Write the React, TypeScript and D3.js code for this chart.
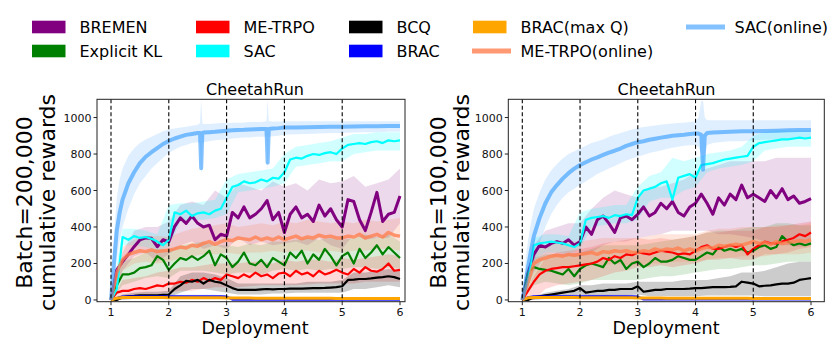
import React from 'react';
import * as d3 from 'd3';

// ---------- grids ----------
const XG = d3.range(51).map((i) => +(1 + i * 0.1).toFixed(2)); // line grid
const XB = d3.range(26).map((i) => +(1 + i * 0.2).toFixed(2)); // band grid

const NAMES = ['BREMEN', 'Explicit KL', 'ME-TRPO', 'SAC', 'BCQ', 'BRAC', 'BRAC(max Q)', 'ME-TRPO(online)', 'SAC(online)'];
const COLORS = ['#800080', '#008000', '#ff0000', '#00ffff', '#000000', '#0000ff', '#ffa500', '#ff7f50', '#1e90ff'];
const X_TICKS = [1, 2, 3, 4, 5, 6];
const Y_TICKS = [0, 200, 400, 600, 800, 1000];
const DEPLOY_LINES = [1, 2, 3, 4, 5];

// ---------- Batch = 200,000 (left) ----------
const L_BREMEN = [0,165,210,250,292,329,340,338,292,330, 320,402,450,420,460,420,400,410,330,360, 350,480,450,510,450,470,500,545,440,480, 370,470,510,450,470,430,520,460,500,440, 400,550,540,440,380,480,590,430,470,480, 570];
const L_BREMEN_HI = [0,260,380,400,400,430, 520,540,520,600,560, 640,620,600,650,620, 640,600,660,640,650, 680,620,640,660,720];
const L_BREMEN_LO = [0,160,240,260,210,250, 300,320,280,300,280, 340,300,320,300,310, 320,300,340,300,280, 360,330,340,340,420];

const L_KL = [0,80,140,140,150,175,180,190,240,220, 165,200,230,220,240,220,240,270,190,250, 230,180,210,260,200,190,220,180,230,210, 190,260,230,270,200,250,220,280,240,190, 240,260,200,280,230,260,300,250,290,260, 230];
const L_KL_HI = [0,210,230,260,280,270, 300,310,320,300,300, 290,310,300,320,320, 330,340,330,340,330, 340,360,340,360,320];
const L_KL_LO = [0,80,100,120,130,120, 160,160,160,150,140, 150,150,140,160,170, 160,170,160,170,170, 180,180,170,180,170];

const L_METRPO = [0,40,50,50,60,65,60,70,80,75, 90,90,100,95,110,100,120,105,120,110, 140,130,120,140,125,150,130,140,120,145, 150,130,160,140,150,130,160,140,150,165, 150,140,170,150,180,160,155,170,200,160, 165];
const L_METRPO_HI = [0,110,120,130,150,160, 180,180,190,200,200, 200,210,210,200,220, 210,220,220,210,230, 220,230,240,250,240];
const L_METRPO_LO = [0,20,20,25,30,40, 50,50,60,70,70, 70,75,80,80,80, 80,85,90,90,90, 90,100,100,100,100];

const L_SAC = [0,60,345,330,350,340,345,335,320,300, 330,480,470,490,460,475,480,470,490,500, 560,620,630,650,640,645,660,650,670,665, 700,770,780,775,790,800,795,805,810,800, 830,850,855,860,855,865,870,860,875,870, 875];
const L_SAC_HI = [0,390,390,380,360,520, 530,530,540,550,660, 690,700,710,720,800, 840,850,860,870,890, 910,910,920,920,920];
const L_SAC_LO = [0,300,300,290,270,290, 430,440,440,450,470, 590,600,610,620,640, 730,740,750,760,760, 800,810,820,820,820];

const L_BCQ = [0,0,15,20,22,25,25,25,25,28, 30,60,80,105,100,110,90,110,100,95, 80,65,55,55,55,55,58,60,58,60, 60,62,62,62,64,65,65,66,68,70, 75,110,112,115,115,118,122,125,130,125, 115];
const L_BCQ_HI = [0,30,40,45,45,50, 130,150,150,140,120, 90,90,90,90,90, 90,100,100,100,110, 150,150,160,170,160];
const L_BCQ_LO = [0,0,5,5,10,15, 40,60,60,50,40, 30,30,30,35,35, 40,40,40,40,40, 60,60,70,80,70];

const L_BRAC = [0,10,18,20,20,20,20,20,20,20, 20,20,20,20,20,20,20,20,20,20, 18,2,2,2,2,2,2,2,2,2, 2,2,2,2,2,2,2,2,2,2, 2,2,2,2,2,2,2,2,2,2, 2];
const L_BRAC_HI = [0,26,28,28,28,28, 28,28,28,28,26, 8,8,8,8,8, 8,8,8,8,8, 8,8,8,8,8];
const L_BRAC_LO = [0,10,12,12,12,12, 12,12,12,12,10, 0,0,0,0,0, 0,0,0,0,0, 0,0,0,0,0];

const L_BRACQ = [0,10,13,13,13,13,13,13,13,13, 12,12,12,12,12,12,12,12,12,12, 11,11,11,11,11,10,10,10,10,10, 10,10,9,9,9,9,9,9,9,8, 8,8,8,8,8,8,8,8,8,8, 8];
const L_BRACQ_HI = [0,16,16,16,16,15, 15,15,15,15,14, 14,14,13,13,13, 12,12,12,11,11, 11,11,11,11,11];
const L_BRACQ_LO = [0,8,10,10,10,9, 9,9,9,9,8, 8,8,7,7,7, 6,6,6,5,5, 5,5,5,5,5];

const L_METRPO_ON = [0,150,220,250,260,270,265,275,265,270, 272,280,290,285,300,295,310,320,305,320, 330,325,340,335,330,345,330,340,330,345, 330,340,350,335,345,340,355,345,350,340, 340,350,345,360,340,350,360,345,370,355, 350];
const L_METRPO_ON_HI = [0,290,330,350,350,345, 370,390,400,410,420, 400,410,420,410,430, 420,440,430,420,430, 420,440,430,440,450];
const L_METRPO_ON_LO = [0,160,200,210,200,210, 230,240,250,250,260, 250,260,260,270,260, 270,270,260,270,260, 270,270,280,280,270];

const L_SACON_X = [1.0,1.05,1.1,1.15,1.2,1.3,1.4,1.5,1.6,1.7,1.8,1.9,2.0,2.1,2.2,2.3,2.4,2.5,2.54,2.56,2.58,2.6,2.7,2.8,2.9,3.0,3.1,3.2,3.3,3.4,3.5,3.6,3.69,3.71,3.73,3.8,3.9,4.0,4.2,4.4,4.6,4.8,5.0,5.2,5.4,5.6,5.8,6.0];
const L_SACON = [0,200,380,480,550,640,700,750,785,810,832,855,872,885,895,905,910,915,915,722,915,918,920,922,925,928,930,932,933,935,936,937,937,753,937,940,942,945,946,947,948,949,950,951,952,952,953,953];
const L_SACON_HI = [0,350,560,660,720,790,830,860,880,895,910,925,935,940,945,950,955,960,970,1100,970,965,965,968,970,970,972,972,973,975,975,976,980,1100,980,978,978,980,980,980,980,980,980,980,980,980,980,980];
const L_SACON_LO = [0,80,220,320,400,500,580,640,680,720,750,780,805,825,840,850,860,865,860,680,860,865,870,875,878,880,885,888,890,890,895,895,895,700,895,898,900,905,908,910,912,915,915,918,920,920,922,922];

// ---------- Batch = 100,000 (right) ----------
const R_BREMEN = [0,150,250,300,290,310,320,310,330,300, 320,400,360,440,460,420,370,450,460,440, 470,510,460,480,530,500,540,480,460,510, 530,580,530,470,560,520,580,550,630,560, 580,560,540,600,560,610,550,570,530,540, 555];
const R_BREMEN_HI = [0,300,380,400,420,420, 500,560,600,580,560, 620,620,640,660,700, 720,740,760,760,760, 760,780,780,780,780];
const R_BREMEN_LO = [0,150,240,240,240,240, 260,300,320,320,340, 350,360,380,380,380, 380,360,360,350,340, 320,300,300,290,300];

const R_KL = [0,150,180,170,165,160,150,140,170,130, 170,190,200,190,180,230,200,220,170,200, 210,180,200,230,210,210,220,240,230,220, 220,240,260,250,290,270,280,270,280,260, 270,290,300,280,290,350,320,300,310,300, 310];
const R_KL_HI = [0,230,250,250,250,260, 280,300,300,300,300, 310,320,330,340,350, 370,380,380,390,400, 400,420,420,410,410];
const R_KL_LO = [0,80,100,90,80,90, 110,110,110,110,110, 120,130,130,140,150, 160,170,170,180,190, 190,200,210,210,210];

const R_METRPO = [0,50,100,140,160,170,175,180,180,185, 190,195,200,210,230,220,240,230,250,245, 260,255,250,260,270,265,260,250,255,250, 270,290,300,280,280,290,300,290,300,250, 280,300,320,310,310,320,330,340,360,350, 370];
const R_METRPO_HI = [0,130,230,260,270,280, 290,310,320,330,340, 330,340,330,340,350, 370,370,380,380,380, 400,400,410,420,430];
const R_METRPO_LO = [0,0,60,80,90,100, 110,130,150,160,180, 180,190,180,190,200, 220,220,230,220,220, 250,250,260,280,290];

const R_SAC = [0,100,300,310,315,320,315,310,300,290, 310,440,450,455,460,450,465,460,470,465, 560,600,610,620,640,650,550,670,680,690, 670,740,745,750,760,770,775,780,785,790, 840,860,865,870,875,880,880,885,890,885, 890];
const R_SAC_HI = [0,340,360,360,350,480, 500,510,520,520,620, 680,700,780,760,780, 800,810,820,840,900, 920,930,930,930,930];
const R_SAC_LO = [0,220,260,260,250,280, 400,410,420,420,440, 540,560,560,600,620, 700,720,730,740,760, 820,830,840,840,840];

const R_BCQ = [0,0,15,20,25,30,35,40,45,50, 65,40,45,50,50,55,55,60,60,60, 75,45,50,55,55,60,60,60,60,62, 65,65,68,70,70,70,72,75,100,95, 90,75,78,80,85,90,90,95,110,115, 120];
const R_BCQ_HI = [0,20,40,50,60,80, 80,90,90,90,100, 100,100,100,110,110, 110,120,130,150,150, 160,180,200,210,210];
const R_BCQ_LO = [0,0,5,10,20,30, 20,20,25,25,30, 20,20,20,20,20, 25,25,25,25,25, 20,20,20,20,20];

const R_BRAC = [0,15,20,20,20,20,20,20,20,20, 20,20,20,20,20,20,20,20,20,20, 18,3,3,3,3,3,3,3,3,3, 3,3,3,3,3,3,3,3,3,3, 3,3,3,3,3,3,3,3,3,3, 3];
const R_BRAC_HI = [0,26,28,28,28,28, 28,28,28,28,26, 8,8,8,8,8, 8,8,8,8,8, 8,8,8,8,8];
const R_BRAC_LO = [0,10,12,12,12,12, 12,12,12,12,10, 0,0,0,0,0, 0,0,0,0,0, 0,0,0,0,0];

const R_BRACQ = [0,12,13,13,13,13,13,13,13,13, 12,12,12,12,12,12,12,12,12,12, 11,11,11,11,11,10,10,10,10,10, 10,10,9,9,9,9,9,9,9,9, 8,8,8,8,8,8,8,8,8,8, 8];
const R_BRACQ_HI = [0,16,16,16,16,15, 15,15,15,15,14, 14,14,13,13,13, 12,12,12,11,11, 11,11,11,11,11];
const R_BRACQ_LO = [0,8,10,10,10,9, 9,9,9,9,8, 8,8,7,7,7, 6,6,6,5,5, 5,5,5,5,5];

const R_METRPO_ON = [0,100,200,220,230,240,245,240,250,245, 250,255,260,250,265,260,270,265,270,260, 260,270,265,280,270,280,275,285,270,280, 270,280,290,285,300,295,300,305,300,310, 320,310,315,305,320,310,315,320,325,320, 330];
const R_METRPO_ON_HI = [0,260,300,310,320,320, 330,340,340,340,340, 350,360,360,360,360, 380,390,390,400,400, 400,410,410,410,420];
const R_METRPO_ON_LO = [0,120,160,170,180,180, 190,190,200,190,190, 200,200,210,210,210, 220,230,230,240,240, 240,250,250,250,260];

const R_SACON_X = [1.0,1.05,1.1,1.15,1.2,1.3,1.4,1.5,1.6,1.7,1.8,1.9,2.0,2.1,2.2,2.3,2.4,2.5,2.6,2.7,2.8,2.9,3.0,3.1,3.2,3.3,3.4,3.5,3.6,3.7,3.8,3.9,4.0,4.05,4.1,4.13,4.16,4.2,4.3,4.4,4.6,4.8,5.0,5.2,5.4,5.6,5.8,6.0];
const R_SACON = [0,80,180,270,350,450,530,590,630,665,695,720,740,755,770,782,795,808,818,830,845,855,865,870,878,884,890,895,900,903,906,910,912,912,905,715,900,915,918,920,922,925,925,926,928,930,932,932];
const R_SACON_HI = [0,200,330,420,500,590,660,710,745,775,800,815,830,845,860,870,880,895,905,915,925,935,942,948,952,956,960,965,968,970,972,975,978,1000,1090,1090,1000,985,985,985,985,985,985,985,985,985,985,985];
const R_SACON_LO = [0,0,60,130,200,310,400,470,520,560,590,610,630,650,670,690,705,720,735,750,765,775,786,795,805,812,820,828,835,840,845,848,850,840,800,700,800,850,860,865,870,870,875,878,880,880,882,885];

type Series = { x: number[]; y: number[]; bx: number[]; lo: number[]; hi: number[] };

const LEFT_SERIES: Series[] = [
  { x: XG, y: L_BREMEN, bx: XB, lo: L_BREMEN_LO, hi: L_BREMEN_HI },
  { x: XG, y: L_KL, bx: XB, lo: L_KL_LO, hi: L_KL_HI },
  { x: XG, y: L_METRPO, bx: XB, lo: L_METRPO_LO, hi: L_METRPO_HI },
  { x: XG, y: L_SAC, bx: XB, lo: L_SAC_LO, hi: L_SAC_HI },
  { x: XG, y: L_BCQ, bx: XB, lo: L_BCQ_LO, hi: L_BCQ_HI },
  { x: XG, y: L_BRAC, bx: XB, lo: L_BRAC_LO, hi: L_BRAC_HI },
  { x: XG, y: L_BRACQ, bx: XB, lo: L_BRACQ_LO, hi: L_BRACQ_HI },
  { x: XG, y: L_METRPO_ON, bx: XB, lo: L_METRPO_ON_LO, hi: L_METRPO_ON_HI },
  { x: L_SACON_X, y: L_SACON, bx: L_SACON_X, lo: L_SACON_LO, hi: L_SACON_HI },
];
const RIGHT_SERIES: Series[] = [
  { x: XG, y: R_BREMEN, bx: XB, lo: R_BREMEN_LO, hi: R_BREMEN_HI },
  { x: XG, y: R_KL, bx: XB, lo: R_KL_LO, hi: R_KL_HI },
  { x: XG, y: R_METRPO, bx: XB, lo: R_METRPO_LO, hi: R_METRPO_HI },
  { x: XG, y: R_SAC, bx: XB, lo: R_SAC_LO, hi: R_SAC_HI },
  { x: XG, y: R_BCQ, bx: XB, lo: R_BCQ_LO, hi: R_BCQ_HI },
  { x: XG, y: R_BRAC, bx: XB, lo: R_BRAC_LO, hi: R_BRAC_HI },
  { x: XG, y: R_BRACQ, bx: XB, lo: R_BRACQ_LO, hi: R_BRACQ_HI },
  { x: XG, y: R_METRPO_ON, bx: XB, lo: R_METRPO_ON_LO, hi: R_METRPO_ON_HI },
  { x: R_SACON_X, y: R_SACON, bx: R_SACON_X, lo: R_SACON_LO, hi: R_SACON_HI },
];

// styles per series (index-aligned with NAMES)
const LINE_W = [3, 2.2, 2.2, 2.2, 2.2, 2.2, 3, 3.5, 4];
const LINE_OP = [1, 1, 1, 1, 1, 0.9, 1, 0.8, 0.55];
const BAND_OP = [0.15, 0.15, 0.15, 0.18, 0.2, 0.15, 0.15, 0.2, 0.14];

const FONT = 'DejaVu Sans, sans-serif';

type PanelProps = {
  id: string;
  series: Series[];
  frame: [number, number]; // left/right px of axes frame
  x1: number; x6: number; // px of x=1 and x=6
  title: string;
  titleX: number;
  xlabelX: number;
  ylab: [string, string];
  ylabX: [number, number];
};

const TOP = 99.3;
const BOTTOM = 301.7;

function Panel(p: PanelProps) {
  const x = d3.scaleLinear().domain([1, 6]).range([p.x1, p.x6]);
  const y = d3.scaleLinear().domain([-9.5, 1100]).range([BOTTOM, TOP]);
  const [fl, fr] = p.frame;
  const yMid = (TOP + BOTTOM) / 2 + 2;
  return (
    <g>
      <defs>
        <clipPath id={p.id}>
          <rect x={fl} y={TOP} width={fr - fl} height={BOTTOM - TOP} />
        </clipPath>
      </defs>
      <g clipPath={`url(#${p.id})`}>
        {p.series.map((s, i) => {
          const area = d3.area<number>()
            .x((_, k) => x(s.bx[k]))
            .y0((_, k) => y(s.lo[k]))
            .y1((_, k) => y(s.hi[k]));
          return <path key={'b' + i} d={area(s.lo) || ''} fill={COLORS[i]} fillOpacity={BAND_OP[i]} stroke="none" />;
        })}
        {p.series.map((s, i) => {
          const line = d3.line<number>()
            .x((_, k) => x(s.x[k]))
            .y((v) => y(v));
          return (
            <path key={'l' + i} d={line(s.y) || ''} fill="none" stroke={COLORS[i]}
              strokeWidth={LINE_W[i]} strokeOpacity={LINE_OP[i]} strokeLinejoin="round" />
          );
        })}
        {DEPLOY_LINES.map((d) => (
          <line key={'d' + d} x1={x(d)} x2={x(d)} y1={TOP} y2={BOTTOM} stroke="#000" strokeWidth={1.1} strokeDasharray="4,2.5" />
        ))}
      </g>
      <rect x={fl} y={TOP} width={fr - fl} height={BOTTOM - TOP} fill="none" stroke="#222" strokeWidth={1} />
      {X_TICKS.map((t) => (
        <g key={'xt' + t}>
          <line x1={x(t)} x2={x(t)} y1={BOTTOM} y2={BOTTOM + 3.5} stroke="#222" />
          <text x={x(t)} y={315.5} textAnchor="middle" fontSize={11} fontFamily={FONT} fill="#111">{t}</text>
        </g>
      ))}
      {Y_TICKS.map((t) => (
        <g key={'yt' + t}>
          <line x1={fl - 3.5} x2={fl} y1={y(t)} y2={y(t)} stroke="#222" />
          <text x={fl - 5.5} y={y(t) + 4} textAnchor="end" fontSize={11} fontFamily={FONT} fill="#111">{t}</text>
        </g>
      ))}
      <text x={p.titleX} y={95} textAnchor="middle" fontSize={16} fontFamily={FONT} fill="#000">{p.title}</text>
      <text x={p.xlabelX} y={334} textAnchor="middle" fontSize={17.5} fontFamily={FONT} fill="#000">Deployment</text>
      {p.ylab.map((t, k) => (
        <text key={'yl' + k} transform={`translate(${p.ylabX[k]},${yMid}) rotate(-90)`} textAnchor="middle"
          fontSize={22} fontFamily={FONT} fill="#000">{t}</text>
      ))}
    </g>
  );
}

// legend layout: column x of handle and text, rows y
const LEG_COLS = [32, 196, 349, 473, 687];
const LEG_ROWS = [27, 51];

function Legend() {
  return (
    <g>
      {NAMES.map((n, i) => {
        const col = Math.floor(i / 2);
        const row = i % 2;
        const hx = LEG_COLS[col];
        const cy = LEG_ROWS[row];
        const isLine = i >= 7;
        return (
          <g key={n}>
            {isLine ? (
              <line x1={hx - 1} x2={hx + 38} y1={cy} y2={cy} stroke={COLORS[i]} strokeWidth={5} strokeOpacity={LINE_OP[i]} />
            ) : (
              <rect x={hx} y={cy - 6.3} width={33.5} height={12.6} fill={COLORS[i]} />
            )}
            <text x={hx + 47.5} y={cy + 5.8} fontSize={16} fontFamily={FONT} fill="#000">{n}</text>
          </g>
        );
      })}
    </g>
  );
}

export default function App() {
  return (
    <svg width={831} height={344} style={{ position: 'absolute', left: 0, top: 0, background: '#fff' }}>
      <rect width={831} height={344} fill="#fff" />
      <Legend />
      <Panel id="cl" series={LEFT_SERIES} frame={[97, 405]} x1={111} x6={400}
        title="CheetahRun" titleX={255} xlabelX={255}
        ylab={['Batch=200,000', 'cumulative rewards']} ylabX={[31.5, 55]} />
      <Panel id="cr" series={RIGHT_SERIES} frame={[508.3, 824.3]} x1={522.3} x6={811}
        title="CheetahRun" titleX={666.5} xlabelX={666}
        ylab={['Batch=100,000', 'cumulative rewards']} ylabX={[446, 469]} />
    </svg>
  );
}
